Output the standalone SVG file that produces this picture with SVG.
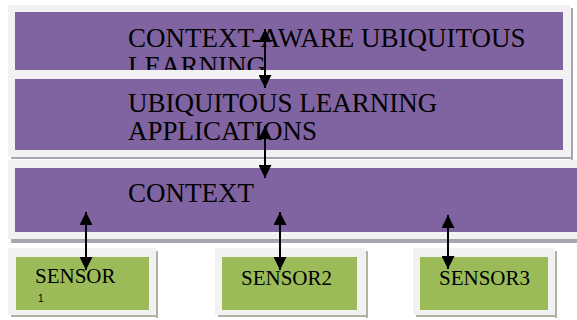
<svg xmlns="http://www.w3.org/2000/svg" width="577" height="320" viewBox="0 0 577 320">
<style>
.frame{fill:#f2f2f2}
.shadow{fill:#aaa3b0}
.gshadow{fill:#b0b49e}
.purple{fill:#8064a2}
.green{fill:#9bbb59}
.big{font-family:"Liberation Serif","Times New Roman",serif;font-size:27px;fill:#000}
.small{font-family:"Liberation Serif","Times New Roman",serif;font-size:21px;fill:#000}
.tiny{font-family:"Liberation Sans",Arial,sans-serif;font-size:10px;fill:#000}
.conn line{stroke:#000;stroke-width:2;marker-start:url(#ah);marker-end:url(#ah)}
</style>
<defs>
<marker id="ah" viewBox="0 0 10 10" refX="10" refY="5" markerWidth="15" markerHeight="13" markerUnits="userSpaceOnUse" orient="auto-start-reverse">
<path d="M0,0 L10,5 L0,10 Z" fill="#000"/>
</marker>
</defs>
<rect width="577" height="320" fill="#fff"/>
<g id="ctx-aware">
<rect class="shadow" x="571" y="8" width="2" height="152"/>
<rect class="shadow" x="11" y="157" width="562" height="2"/>
<rect class="frame" x="8" y="5" width="563" height="65"/>
<rect class="purple" x="15" y="12" width="548" height="58"/>
<text class="big" x="128" y="47">CONTEXT-AWARE UBIQUITOUS</text>
<text class="big" x="128" y="75">LEARNING</text>
</g>
<g id="ul-apps">
<rect class="frame" x="8" y="70" width="563" height="87"/>
<rect class="purple" x="15" y="79" width="548" height="71"/>
<text class="big" x="128" y="112">UBIQUITOUS LEARNING</text>
<text class="big" x="128" y="140">APPLICATIONS</text>
</g>
<g id="context">
<rect class="shadow" x="11" y="239" width="566" height="4"/>
<rect class="frame" x="8" y="160" width="569" height="79"/>
<rect class="purple" x="15" y="168" width="562" height="64"/>
<text class="big" x="128" y="202">CONTEXT</text>
</g>
<g id="sensor1">
<rect class="gshadow" x="156" y="251" width="2" height="67"/>
<rect class="gshadow" x="11" y="315" width="147" height="2"/>
<rect class="frame" x="8" y="248" width="148" height="67"/>
<rect class="green" x="16" y="257" width="133" height="53"/>
<text class="small" x="35" y="283">SENSOR</text>
<text class="tiny" x="38" y="302">1</text>
</g>
<g id="sensor2">
<rect class="gshadow" x="366" y="251" width="2" height="67"/>
<rect class="gshadow" x="218" y="315" width="150" height="2"/>
<rect class="frame" x="215" y="248" width="151" height="67"/>
<rect class="green" x="222" y="257" width="135" height="53"/>
<text class="small" x="241" y="285">SENSOR2</text>
</g>
<g id="sensor3">
<rect class="gshadow" x="555" y="251" width="2" height="67"/>
<rect class="gshadow" x="416" y="315" width="141" height="2"/>
<rect class="frame" x="413" y="248" width="142" height="67"/>
<rect class="green" x="420" y="257" width="128" height="53"/>
<text class="small" x="439" y="285">SENSOR3</text>
</g>
<g id="connectors" class="conn">
<line x1="265" y1="29" x2="265" y2="88"/>
<line x1="265" y1="126" x2="265" y2="178"/>
<line x1="86" y1="212" x2="86" y2="270"/>
<line x1="280" y1="212" x2="280" y2="270"/>
<line x1="448" y1="215" x2="448" y2="269"/>
</g>
</svg>
